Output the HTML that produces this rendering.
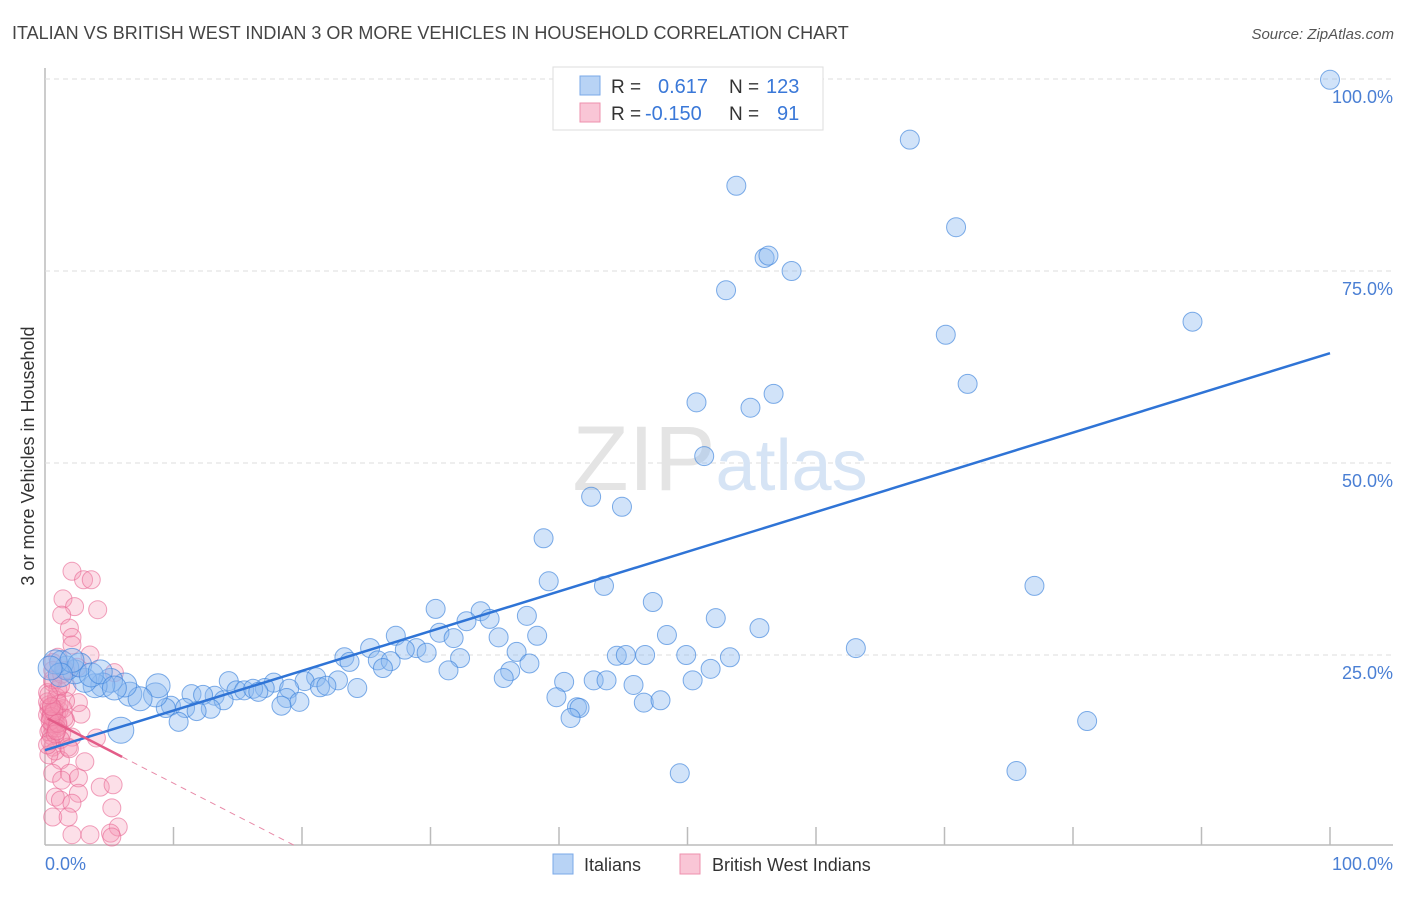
<!DOCTYPE html>
<html><head><meta charset="utf-8"><style>
body{margin:0;background:#fff;font-family:"Liberation Sans",sans-serif;}
svg text{font-family:"Liberation Sans",sans-serif;}
</style></head><body>
<svg width="1406" height="892" viewBox="0 0 1406 892" xmlns="http://www.w3.org/2000/svg">
<text x="12" y="39" font-size="18" fill="#444">ITALIAN VS BRITISH WEST INDIAN 3 OR MORE VEHICLES IN HOUSEHOLD CORRELATION CHART</text>
<text x="1394" y="39" font-size="15" fill="#555" text-anchor="end" font-style="italic">Source: ZipAtlas.com</text>
<g id="grid"></g>
<text x="720" y="490" font-size="92" text-anchor="middle" fill="#e4e4e4" font-family="Liberation Serif">ZIP<tspan fill="#d6e4f5" font-family="Liberation Sans" font-size="72">atlas</tspan></text>
<g id="pink"></g><g id="blue"></g><g id="lines"></g>
<text transform="translate(34,456) rotate(-90)" font-size="18" fill="#333" text-anchor="middle">3 or more Vehicles in Household</text>
<text x="45" y="870" font-size="18" fill="#4a7fd4">0.0%</text>
<text x="1393" y="870" font-size="18" fill="#4a7fd4" text-anchor="end">100.0%</text>
<g>
<rect x="553" y="67" width="270" height="63" fill="#fff" stroke="#ddd"/>
<rect x="580" y="76" width="20" height="19" fill="#b8d3f5" stroke="#7aa8e8"/>
<rect x="580" y="103" width="20" height="19" fill="#f9c6d6" stroke="#ee90ad"/>
<text x="611" y="93" font-size="19" fill="#333">R =</text>
<text x="658" y="93" font-size="20" fill="#3a78d8">0.617</text>
<text x="729" y="93" font-size="19" fill="#333">N =</text>
<text x="766" y="93" font-size="20" fill="#3a78d8">123</text>
<text x="611" y="120" font-size="19" fill="#333">R =</text>
<text x="645" y="120" font-size="20" fill="#3a78d8">-0.150</text>
<text x="729" y="120" font-size="19" fill="#333">N =</text>
<text x="777" y="120" font-size="20" fill="#3a78d8">91</text>
</g>
<g>
<rect x="553" y="854" width="20" height="20" fill="#b8d3f5" stroke="#7aa8e8"/>
<text x="584" y="871" font-size="18" fill="#333">Italians</text>
<rect x="680" y="854" width="20" height="20" fill="#f9c6d6" stroke="#ee90ad"/>
<text x="712" y="871" font-size="18" fill="#333">British West Indians</text>
</g>
</svg>
<script>
const yTicks=[25,50,75,100];
const yTickLabels=["25.0%","50.0%","75.0%","100.0%"];
const xTicks=[10,20,30,40,50,60,70,80,90,100];
const blueX=[100,67.3,53.8,70.9,56.0,56.3,58.1,53.0,89.3,70.1,71.8,56.7,50.7,54.9,51.3,42.5,44.9,38.8,39.2,43.5,77.0,47.3,30.4,33.9,37.5,52.2,32.8,34.6,55.6,30.7,48.4,35.3,38.3,27.3,31.8,63.1,25.3,23.3,28.9,28.0,29.7,32.3,25.9,26.9,36.7,44.5,45.2,46.7,49.9,53.3,23.7,26.3,31.4,36.2,37.7,51.8,35.7,40.4,42.7,43.7,45.8,50.4,21.1,22.8,20.2,21.4,21.9,24.3,14.3,17.8,17.1,14.9,15.5,16.2,16.6,19.0,13.2,11.4,12.3,18.8,39.8,13.9,19.8,18.4,9.8,10.9,12.9,11.8,9.4,46.6,47.9,41.4,41.6,40.9,10.4,81.1,49.4,75.6,5.9,8.6,8.8,6.6,7.4,6.2,5.1,4.5,3.9,3.1,2.3,1.7,1.3,0.8,2.7,3.6,2.1,4.3,5.4,1.2,0.4];
const blueY=[99.9,92.1,86.1,80.7,76.7,77.0,75.0,72.5,68.4,66.7,60.3,59.0,57.9,57.2,50.9,45.6,44.3,40.2,34.6,34.0,34.0,31.9,31.0,30.7,30.1,29.8,29.4,29.7,28.5,27.9,27.6,27.3,27.5,27.5,27.2,25.9,25.9,24.7,25.9,25.7,25.3,24.6,24.3,24.2,25.4,24.9,25.0,25.0,25.0,24.7,24.1,23.3,23.0,22.9,23.9,23.2,22.0,21.5,21.7,21.7,21.1,21.7,22.1,21.7,21.6,20.8,21.0,20.7,21.6,21.4,20.7,20.4,20.4,20.6,20.2,20.6,19.7,19.9,19.8,19.4,19.5,19.1,18.9,18.4,18.4,18.1,18.0,17.7,18.1,18.8,19.1,18.2,18.1,16.8,16.3,16.4,9.6,9.9,15.2,19.8,21.0,19.9,19.3,21.1,21.7,21.1,21.0,21.7,22.8,23.3,24.0,24.1,23.7,22.4,24.3,22.8,20.7,22.4,23.3];
const pinkX=[2.1,3.0,3.6,1.4,2.3,4.1,1.3,1.9,2.1,2.1,3.5,1.0,0.6,1.6,2.5,5.4,0.6,1.7,2.6,0.5,0.9,1.6,0.6,1.3,2.1,4.0,0.6,1.8,3.1,1.2,0.6,1.9,1.3,2.6,4.3,5.3,0.8,2.6,1.2,2.1,5.2,0.6,1.8,5.7,2.1,3.5,5.1,5.2,0.4,0.2,0.9,0.3,0.5,0.8,1.1,0.4,0.7,0.3,1.0,0.5,0.2,0.9,1.4,0.6,0.3,1.2,0.8,0.4,1.5,0.7,0.2,1.0,0.6,1.3,0.3,0.9,0.5,1.1,0.4,0.8,1.6,0.2,0.7,1.0,0.5,1.2,0.3,0.9,2.8,1.9,0.6];
const pinkY=[35.9,34.8,34.8,32.3,31.3,30.9,30.2,28.5,27.3,26.3,25.0,24.7,23.0,23.0,23.4,22.7,21.4,20.8,18.8,18.2,17.4,16.5,15.6,14.8,14.3,14.2,13.0,13.0,11.1,11.3,9.6,9.6,8.7,9.0,7.8,8.1,6.5,7.0,6.1,5.7,5.1,3.9,3.9,2.6,1.6,1.6,1.8,1.3,16.9,20.1,19.1,18.0,17.5,16.2,17.8,15.3,16.6,18.5,15.8,14.5,17.2,19.5,18.0,16.0,15.0,14.0,12.5,13.8,16.8,17.9,18.9,20.5,21.8,22.5,12.0,15.5,17.0,18.6,16.4,14.7,19.0,13.3,17.6,16.1,18.3,21.0,19.8,15.1,17.3,12.8,24.0];
const blueLine=[12.6,64.3];
const pinkLine=[16.9,-0.86];
const NS="http://www.w3.org/2000/svg";
const X=v=>45+v*12.85, Y=v=>847-v*7.68;
function mk(t,a,p){const e=document.createElementNS(NS,t);for(const k in a)e.setAttribute(k,a[k]);p.appendChild(e);return e;}
const g=document.getElementById('grid');
const ax=mk('line',{x1:45,y1:68,x2:45,y2:845,stroke:'#bbb','stroke-width':1.5},g);


const bx=mk('line',{x1:45,y1:845,x2:1393,y2:845,stroke:'#bbb','stroke-width':1.5},g);


yTicks.forEach((t,i)=>{
 const l=mk('line',{x1:45,y1:Y(t),x2:1393,y2:Y(t),stroke:'#ddd','stroke-dasharray':'5,4'},g);
 
 
 const tx=mk('text',{x:1393,y:Y(t)+24,'font-size':18,fill:'#4a7fd4','text-anchor':'end'},g);
 tx.textContent=yTickLabels[i];
 
 
});
xTicks.forEach(t=>{
 const l=mk('line',{x1:X(t),y1:827,x2:X(t),y2:845,stroke:'#bbb','stroke-width':1.5},g);
 
 
});
const pg=document.getElementById('pink');
pinkX.forEach((x,i)=>{
 const c=mk('circle',{cx:X(x),cy:Y(pinkY[i]),r:9,fill:'rgba(244,150,180,0.3)',stroke:'rgba(232,100,145,0.6)','stroke-width':1},pg);
 
 
});
const bg=document.getElementById('blue');
blueX.forEach((x,i)=>{
 const r=(x<9)?12:9.5;
 const c=mk('circle',{cx:X(x),cy:Y(blueY[i]),r:(i==98?13:r),fill:'rgba(140,185,240,0.4)',stroke:'rgba(60,130,220,0.65)','stroke-width':1},bg);
 
 
});
const lg=document.getElementById('lines');
const bl=mk('line',{x1:X(0),y1:Y(blueLine[0]),x2:X(100),y2:Y(blueLine[1]),stroke:'#2f74d6','stroke-width':2.5},lg);


const pe=-pinkLine[0]/pinkLine[1];
const pd=mk('line',{x1:X(6),y1:Y(pinkLine[0]+6*pinkLine[1]),x2:X(pe),y2:Y(0),stroke:'#e88aa8','stroke-width':1,'stroke-dasharray':'6,5'},lg);


const pl=mk('line',{x1:X(0.2),y1:Y(pinkLine[0]+0.2*pinkLine[1]),x2:X(6),y2:Y(pinkLine[0]+6*pinkLine[1]),stroke:'#e35c88','stroke-width':2.5},lg);


</script>
</body></html>
